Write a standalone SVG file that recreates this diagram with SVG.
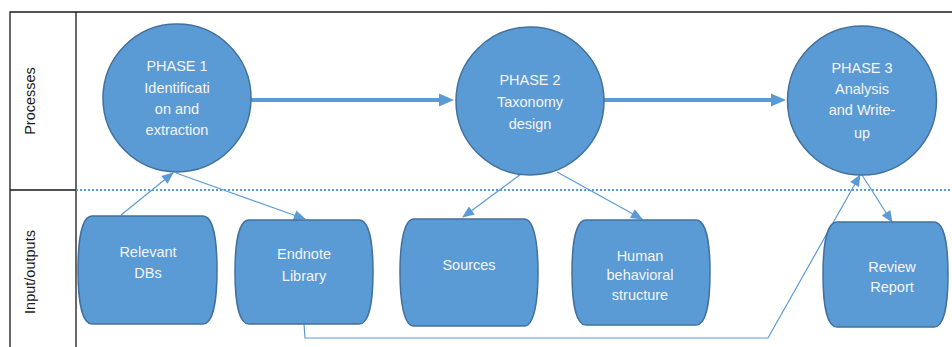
<svg xmlns="http://www.w3.org/2000/svg" width="952" height="347" viewBox="0 0 952 347">
<style>
.frame{stroke:#1a1a1a;stroke-width:1.3;fill:none}
.lane{font-family:"Liberation Sans",Arial,sans-serif;font-size:14.5px;fill:#1a1a1a;text-anchor:middle}
.node{fill:#5b9bd5;stroke:#41719c;stroke-width:1.5}
.lbl{font-family:"Liberation Sans",Arial,sans-serif;font-size:14.5px;fill:#f4f4f4;text-anchor:middle}
.thick{stroke:#5b9bd5;stroke-width:4;fill:none}
.thin{stroke:#5b9bd5;stroke-width:1.2;fill:none}
.dot{stroke:#5b9bd5;stroke-width:2.2;stroke-dasharray:2 2;fill:none}
</style>
<defs>
<marker id="big" markerUnits="userSpaceOnUse" markerWidth="16" markerHeight="14" refX="2" refY="6.5" orient="auto" overflow="visible">
<path d="M0,0 L15,6.5 L0,13 z" fill="#5b9bd5"/>
</marker>
<marker id="small" markerUnits="userSpaceOnUse" markerWidth="12" markerHeight="10" refX="11" refY="5" orient="auto" overflow="visible">
<path d="M0,0 L12,5 L0,10 z" fill="#5b9bd5"/>
</marker>
</defs>
<rect width="952" height="347" fill="#ffffff"/>
<g id="frame">
<path class="frame" d="M10,347 V12 H952 M76,12 V347 M10,190 H76"/>
<line class="dot" x1="76" y1="190" x2="952" y2="190"/>
<text class="lane" transform="translate(35,101) rotate(-90)">Processes</text>
<text class="lane" transform="translate(35,272) rotate(-90)">Input/outputs</text>
</g>
<g id="connectors">
<line class="thick" x1="251" y1="100" x2="441" y2="100" marker-end="url(#big)"/>
<line class="thick" x1="604" y1="100" x2="773" y2="100" marker-end="url(#big)"/>
<line class="thin" x1="121" y1="215" x2="173" y2="173" marker-end="url(#small)"/>
<line class="thin" x1="176" y1="173" x2="305" y2="219" marker-end="url(#small)"/>
<line class="thin" x1="521" y1="174" x2="463" y2="217" marker-end="url(#small)"/>
<line class="thin" x1="557" y1="172" x2="642" y2="219" marker-end="url(#small)"/>
<polyline class="thin" points="304,324 305,338 768,338 860,175" marker-end="url(#small)"/>
<line class="thin" x1="862" y1="175" x2="892" y2="222" marker-end="url(#small)"/>
</g>
<g id="phase1">
<circle class="node" cx="177" cy="98" r="74"/>
<text class="lbl" x="177" y="71">PHASE 1</text>
<text class="lbl" x="177" y="93">Identificati</text>
<text class="lbl" x="177" y="114">on and</text>
<text class="lbl" x="177" y="135">extraction</text>
</g>
<g id="phase2">
<circle class="node" cx="530" cy="101" r="74"/>
<text class="lbl" x="530" y="85">PHASE 2</text>
<text class="lbl" x="530" y="107">Taxonomy</text>
<text class="lbl" x="530" y="129">design</text>
</g>
<g id="phase3">
<circle class="node" cx="862" cy="100.5" r="74.5"/>
<text class="lbl" x="862" y="73">PHASE 3</text>
<text class="lbl" x="862" y="94">Analysis</text>
<text class="lbl" x="862" y="115">and Write-</text>
<text class="lbl" x="862" y="138">up</text>
</g>
<g id="relevant-dbs">
<path class="node" d="M92,216 H203 C213,216 217,240 217,270 C217,300 213,324 203,324 H92 C82,324 78,300 78,270 C78,240 82,216 92,216 Z"/>
<text class="lbl" x="148" y="257">Relevant</text>
<text class="lbl" x="148" y="278">DBs</text>
</g>
<g id="endnote-library">
<path class="node" d="M249,220 H359 C369,220 373,243 373,272 C373,301 369,324 359,324 H249 C239,324 235,301 235,272 C235,243 239,220 249,220 Z"/>
<text class="lbl" x="304" y="259">Endnote</text>
<text class="lbl" x="304" y="281">Library</text>
</g>
<g id="sources">
<path class="node" d="M414,219 H524 C534,219 538,243 538,272.5 C538,302 534,326 524,326 H414 C404,326 400,302 400,272.5 C400,243 404,219 414,219 Z"/>
<text class="lbl" x="469" y="270">Sources</text>
</g>
<g id="human-behavioral-structure">
<path class="node" d="M586,220 H696 C706,220 710,243 710,272.5 C710,302 706,325 696,325 H586 C576,325 572,302 572,272.5 C572,243 576,220 586,220 Z"/>
<text class="lbl" x="640" y="261">Human</text>
<text class="lbl" x="640" y="280">behavioral</text>
<text class="lbl" x="640" y="300">structure</text>
</g>
<g id="review-report">
<path class="node" d="M837,222 H934 C944,222 948,245 948,274.5 C948,304 944,327 934,327 H837 C827,327 823,304 823,274.5 C823,245 827,222 837,222 Z"/>
<text class="lbl" x="892" y="272">Review</text>
<text class="lbl" x="892" y="292">Report</text>
</g>
</svg>
